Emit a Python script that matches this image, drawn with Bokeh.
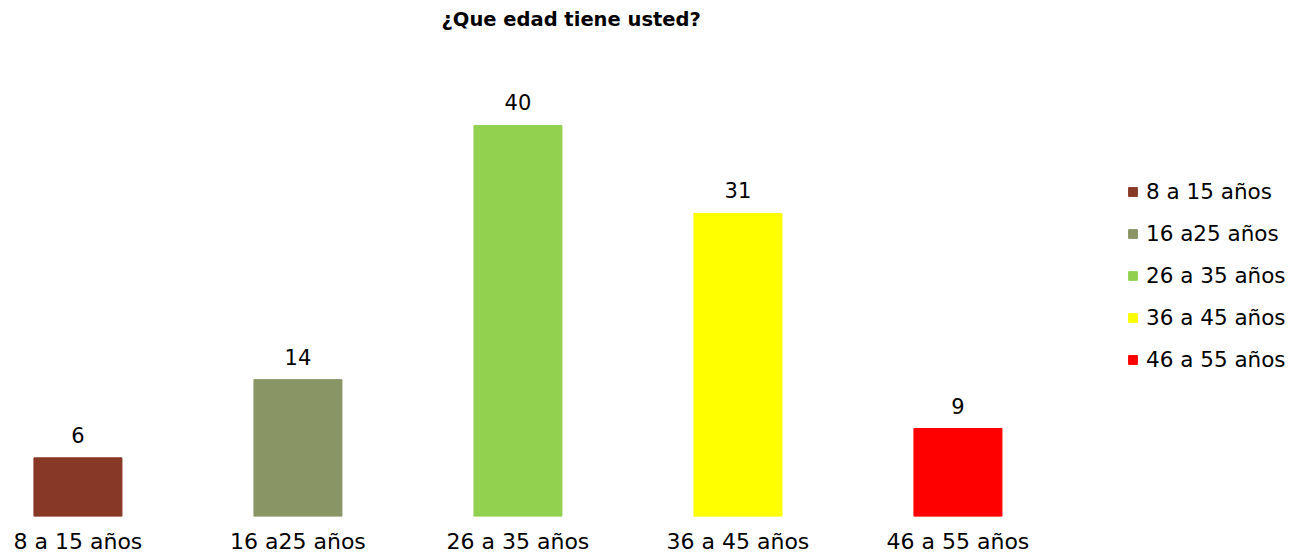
from bokeh.plotting import figure
from bokeh.models import ColumnDataSource, Range1d, FixedTicker, LabelSet, Legend, LegendItem
from bokeh.core.properties import value
from bokeh.embed import file_html
from bokeh.resources import INLINE

categories = ["8 a 15 años", "16 a25 años", "26 a 35 años", "36 a 45 años", "46 a 55 años"]
values = [6, 14, 40, 31, 9]
colors = ["#883826", "#8A9566", "#92D050", "#FFFF00", "#FF0000"]

FONT = "DejaVu Sans"
idx = list(range(len(categories)))
src = ColumnDataSource(dict(x=idx, top=values, color=colors, cat=categories,
                            lbl=[str(v) for v in values]))

p = figure(width=1297, height=556, output_backend="svg", toolbar_location=None,
           x_range=Range1d(-0.352, -0.352 + 1297 / 220), y_range=Range1d(0, 49.2),
           min_border_left=0, min_border_right=0, min_border_top=0, min_border_bottom=0)

p.title.text = "¿Que edad tiene usted?"
p.title.text_font = FONT
p.title.text_font_size = "19.5px"
p.title.text_font_style = "bold"
p.title.align = "left"
p.title.offset = 441
p.title.text_color = "#000000"

r = p.vbar(x="x", top="top", width=0.4, color="color", source=src)

labels = LabelSet(x="x", y="top", text="lbl", source=src, text_align="center",
                  text_baseline="bottom", y_offset=15, text_font_size="21px",
                  text_color="#000000", text_font=value(FONT))
p.add_layout(labels)

items = [LegendItem(label=c, renderers=[r], index=i) for i, c in enumerate(categories)]
legend = Legend(items=items, location=(1127, 144), glyph_width=11, glyph_height=11,
                label_text_font=FONT, label_text_font_size="21.5px", label_text_color="#000000",
                spacing=17, padding=0, margin=0, border_line_alpha=0,
                background_fill_alpha=0, label_standoff=8)
p.add_layout(legend, "center")

p.xaxis.ticker = FixedTicker(ticks=idx)
p.xaxis.major_label_overrides = {i: c for i, c in enumerate(categories)}
p.xaxis.axis_line_color = None
p.xaxis.major_tick_line_color = None
p.xaxis.minor_tick_line_color = None
p.xaxis.major_label_text_font = FONT
p.xaxis.major_label_text_font_size = "22px"
p.xaxis.major_label_text_color = "#000000"
p.xaxis.major_label_standoff = 6
p.yaxis.visible = False
p.xgrid.grid_line_color = None
p.ygrid.grid_line_color = None
p.outline_line_color = None

open("out.html", "w").write(file_html(p, INLINE))
